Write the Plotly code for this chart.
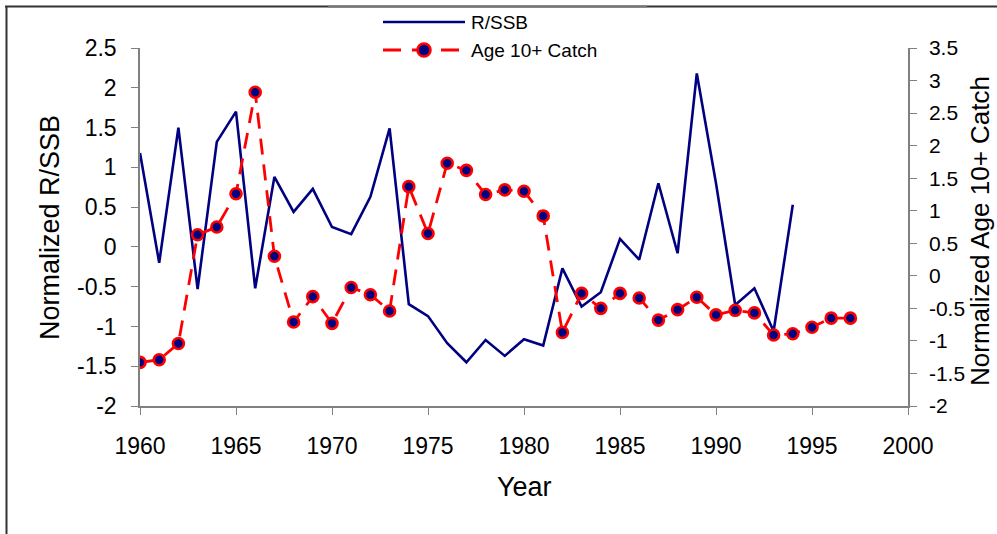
import plotly.graph_objects as go

# Normalized recruitment per spawning stock biomass and age 10+ catch
years_rssb = list(range(1960, 1995))
r_ssb = [1.18, -0.20, 1.50, -0.53, 1.32, 1.70, -0.52, 0.88, 0.44, 0.73,
         0.25, 0.16, 0.63, 1.49, -0.72, -0.87, -1.21, -1.45, -1.17, -1.37,
         -1.16, -1.24, -0.27, -0.75, -0.57, 0.10, -0.16, 0.80, -0.08, 2.18,
         0.80, -0.73, -0.52, -1.06, 0.53]

years_catch = list(range(1960, 1998))
age10_catch = [-1.33, -1.29, -1.04, 0.63, 0.75, 1.26, 2.82, 0.30, -0.71, -0.32,
               -0.73, -0.18, -0.29, -0.54, 1.37, 0.65, 1.73, 1.62, 1.25, 1.32,
               1.30, 0.92, -0.87, -0.27, -0.50, -0.27, -0.34, -0.68, -0.52, -0.33,
               -0.60, -0.53, -0.57, -0.91, -0.89, -0.79, -0.65, -0.65]

x_ticks = [1960, 1965, 1970, 1975, 1980, 1985, 1990, 1995, 2000]
left_ticks = [-2, -1.5, -1, -0.5, 0, 0.5, 1, 1.5, 2, 2.5]
left_labels = ["-2", "-1.5", "-1", "-0.5", "0", "0.5", "1", "1.5", "2", "2.5"]
right_ticks = [-2, -1.5, -1, -0.5, 0, 0.5, 1, 1.5, 2, 2.5, 3, 3.5]
right_labels = ["-2", "-1.5", "-1", "-0.5", "0", "0.5", "1", "1.5", "2", "2.5", "3", "3.5"]

NAVY = "#000080"
RED = "#FF0000"
AXIS = "#808080"
FONT = "Liberation Sans, Arial, sans-serif"

W, H = 997, 534
L, R, T, B = 140, 89, 48, 128
PW, PH = W - L - R, H - T - B


def px(x):
    return (x - L) / PW


def py(y):
    return (H - B - y) / PH


fig = go.Figure()

fig.add_trace(go.Scatter(
    x=years_rssb, y=r_ssb, name="R/SSB", mode="lines",
    line=dict(color=NAVY, width=2.6), yaxis="y", showlegend=False,
))
fig.add_trace(go.Scatter(
    x=years_catch, y=age10_catch, name="Age 10+ Catch", mode="lines+markers",
    line=dict(color=RED, width=2.8, dash="16px,10px"),
    marker=dict(size=11, color=NAVY, line=dict(color=RED, width=2.6)),
    yaxis="y2", showlegend=False,
))

shapes = [
    # outer frame (top and left edges)
    dict(type="line", xref="paper", yref="paper", x0=px(5), x1=px(997), y0=py(6.5), y1=py(6.5),
         line=dict(color="#333333", width=2)),
    dict(type="line", xref="paper", yref="paper", x0=px(328), x1=px(647), y0=py(6.5), y1=py(6.5),
         line=dict(color="#777777", width=2)),
    dict(type="line", xref="paper", yref="paper", x0=px(6.5), x1=px(6.5), y0=py(6), y1=py(534),
         line=dict(color="#333333", width=2)),
    # legend samples
    dict(type="line", xref="paper", yref="paper", x0=px(383), x1=px(465), y0=py(22), y1=py(22),
         line=dict(color=NAVY, width=2.6)),
    dict(type="line", xref="paper", yref="paper", x0=px(383), x1=px(459), y0=py(50), y1=py(50),
         line=dict(color=RED, width=2.8, dash="18px,11px")),
    dict(type="circle", xref="paper", yref="paper", xsizemode="pixel", ysizemode="pixel",
         xanchor=px(424), yanchor=py(50), x0=-6.5, x1=6.5, y0=-6.5, y1=6.5,
         fillcolor=NAVY, line=dict(color=RED, width=2.6)),
]

annotations = [
    dict(text="R/SSB", xref="paper", yref="paper", x=px(469), y=py(22),
         xanchor="left", yanchor="middle", showarrow=False,
         font=dict(family=FONT, size=19, color="black")),
    dict(text="Age 10+ Catch", xref="paper", yref="paper", x=px(469), y=py(50),
         xanchor="left", yanchor="middle", showarrow=False,
         font=dict(family=FONT, size=19, color="black")),
    dict(text="Year", xref="paper", yref="paper", x=px(524), y=py(487),
         xanchor="center", yanchor="middle", showarrow=False,
         font=dict(family=FONT, size=27, color="black")),
    dict(text="Normalized R/SSB", xref="paper", yref="paper", x=px(50), y=py(228),
         xanchor="center", yanchor="middle", showarrow=False, textangle=-90,
         font=dict(family=FONT, size=27, color="black")),
    dict(text="Normalized Age 10+ Catch", xref="paper", yref="paper", x=px(980), y=py(231),
         xanchor="center", yanchor="middle", showarrow=False, textangle=-90,
         font=dict(family=FONT, size=26, color="black")),
]

fig.update_layout(
    width=W, height=H,
    margin=dict(l=L, r=R, t=T, b=B, pad=0),
    paper_bgcolor="white", plot_bgcolor="white",
    font=dict(family=FONT, color="black"),
    showlegend=False,
    xaxis=dict(
        range=[1960, 2000], tickvals=x_ticks, ticktext=[str(v) for v in x_ticks],
        showgrid=False, zeroline=False, showline=True, linecolor=AXIS, linewidth=1.5,
        ticks="outside", ticklen=7, tickcolor=AXIS, tickwidth=1.2,
        ticklabelstandoff=12, tickfont=dict(family=FONT, size=23, color="black"),
    ),
    yaxis=dict(
        range=[-2, 2.5], tickvals=left_ticks, ticktext=left_labels,
        showgrid=False, zeroline=False, showline=True, linecolor=AXIS, linewidth=1.5,
        ticks="outside", ticklen=7, tickcolor=AXIS, tickwidth=1.2,
        ticklabelstandoff=10, tickfont=dict(family=FONT, size=23, color="black"),
    ),
    yaxis2=dict(
        range=[-2, 3.5], tickvals=right_ticks, ticktext=right_labels,
        overlaying="y", side="right", anchor="x",
        showgrid=False, zeroline=False, showline=True, linecolor=AXIS, linewidth=1.5,
        ticks="outside", ticklen=7, tickcolor=AXIS, tickwidth=1.2,
        ticklabelstandoff=8, tickfont=dict(family=FONT, size=21, color="black"),
    ),
    yaxis3=dict(
        range=[-2, 3.5], tickvals=right_ticks, overlaying="y", side="right", anchor="x",
        showgrid=False, zeroline=False, showline=False, showticklabels=False,
        ticks="inside", ticklen=8, tickcolor=AXIS, tickwidth=1.2,
    ),
    shapes=shapes,
    annotations=annotations,
)

fig.write_html("out.html")
